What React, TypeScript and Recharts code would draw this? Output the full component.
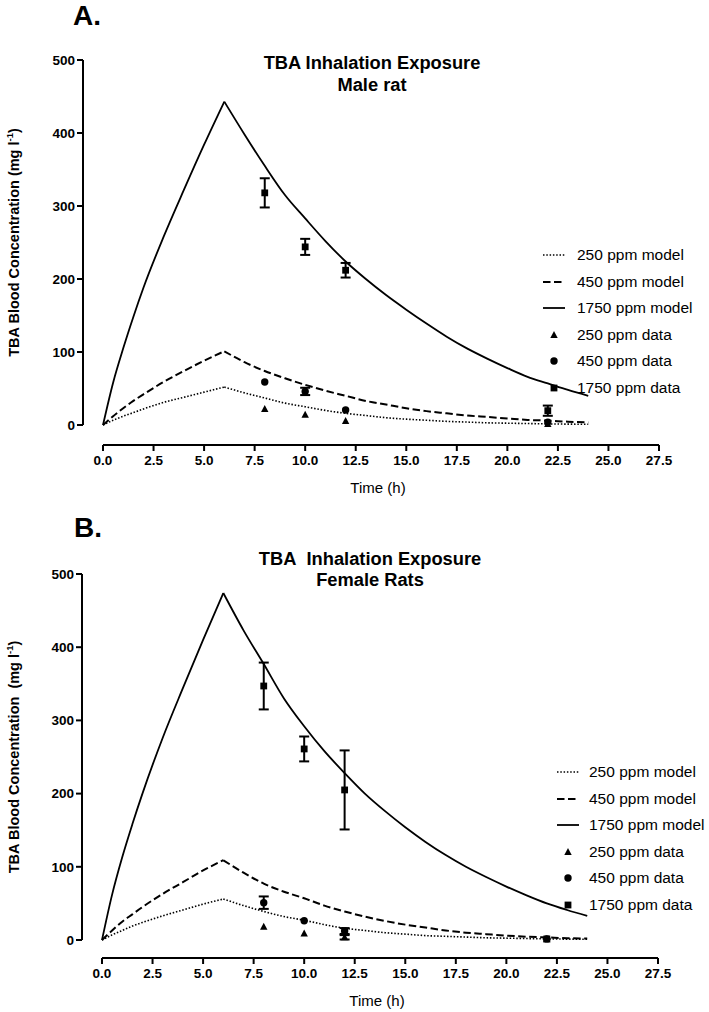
import React from "react";
import {
  ComposedChart,
  Line,
  Scatter,
  XAxis,
  YAxis,
  ErrorBar,
  ReferenceLine,
  Legend,
  Label,
} from "recharts";

const FONT = '"Liberation Sans", Arial, Helvetica, sans-serif';

// PBPK model output (exposure stops at 6 h); half-hour steps where the uptake curve bends most
const modelTimes = [0, 0.5, 1, 1.5, 2, 3, 4, 5, 6, 7, 8, 9, 10, 11, 12, 13, 14, 15, 16, 17, 18, 19, 20, 21, 22, 23, 24];
const PEAK_INDEX = 8;

const male250Model = [0, 6.5, 12, 17, 22, 31, 38, 45, 52, 44, 37, 30, 25, 20, 16, 13, 10, 8, 6.5, 5, 4, 3, 2.5, 2, 1.5, 1.2, 1];
const male450Model = [0, 12, 23, 33, 42, 59, 74, 88, 101, 86, 74, 64, 55, 47, 40, 33, 28, 23, 19, 16, 13, 11, 9, 7, 6, 4.5, 3.5];
const male1750Model = [0, 58, 105, 148, 188, 258, 322, 384, 443, 398, 355, 315, 283, 252, 224, 200, 178, 158, 139, 121, 105, 91, 78, 66, 57, 48, 40];

const female250Model = [0, 7, 13, 19, 24, 33, 41, 49, 56, 47, 39, 32, 27, 21, 16, 13, 10, 8, 6, 5, 4, 3, 2.5, 2, 1.5, 1.2, 1];
const female450Model = [0, 13, 25, 35, 45, 63, 79, 95, 109, 92, 77, 66, 57, 47, 39, 32, 26, 21, 17, 13, 10, 8, 6, 4.5, 3.5, 2.5, 2];
const female1750Model = [0, 62, 113, 158, 200, 276, 344, 410, 474, 423, 377, 330, 292, 258, 228, 200, 176, 154, 134, 116, 100, 86, 73, 61, 50, 41, 33];

// measured blood levels, mean and SD
const sampleTimes = [8, 10, 12, 22];

const male250Data = [22, 14, 5.5, 1.5];
const male250Sd = [0, 0, 0, 0];
const male450Data = [59, 46, 20.5, 4];
const male450Sd = [0, 5, 0, 0];
const male1750Data = [318, 244, 212, 19.6];
const male1750Sd = [20, 11, 10, 7];

const female250Data = [18, 9, 3.7, 1];
const female250Sd = [0, 0, 3, 0];
const female450Data = [51, 26.4, 12.3, 1.5];
const female450Sd = [8.5, 0, 4, 0];
const female1750Data = [347, 261, 205, 1.5];
const female1750Sd = [32, 17, 54, 0];

const xTicks = [0, 2.5, 5, 7.5, 10, 12.5, 15, 17.5, 20, 22.5, 25, 27.5];
const yTicks = [0, 100, 200, 300, 400, 500];

const legendNames = ["250 ppm model", "450 ppm model", "1750 ppm model", "250 ppm data", "450 ppm data", "1750 ppm data"];

const lineStyles = [
  { dash: "1.5 1.8", width: 1.6 },
  { dash: "7.5 3.5", width: 2 },
  { dash: undefined, width: 1.8 },
];

const Triangle = (p: any) => (
  <path d={`M${p.cx},${p.cy - 4} L${p.cx + 3.7},${p.cy + 3} L${p.cx - 3.7},${p.cy + 3} Z`} fill="#000" />
);
const Dot = (p: any) => <circle cx={p.cx} cy={p.cy} r={3.7} fill="#000" />;
const Square = (p: any) => <rect x={p.cx - 3.4} y={p.cy - 3.4} width={6.8} height={6.8} fill="#000" />;
const markerShapes = [Triangle, Dot, Square];

function LegendIcon({ index }: { index: number }) {
  if (index < 3) {
    const s = lineStyles[index];
    return (
      <svg width={22} height={14}>
        <line x1={0} y1={7} x2={22} y2={7} stroke="#000" strokeWidth={s.width} strokeDasharray={s.dash} />
      </svg>
    );
  }
  const Shape = markerShapes[index - 3];
  return (
    <svg width={22} height={14}>
      <Shape cx={11} cy={7} />
    </svg>
  );
}

type Layout = {
  plotLeft: number;
  plotRight: number;
  plotTop: number;
  plotBottom: number;
  yGap: number;
  xGap: number;
  legendLeft: number;
  legendTop: number;
  legendGap: number;
  letterX: number;
  letterY: number;
  titleY1: number;
  titleY2: number;
  titleX: number;
};

type PanelProps = {
  letter: string;
  title1: string;
  title2: string;
  yLabel: string;
  models: number[][];
  points: number[][];
  sds: number[][];
  layout: Layout;
};

const W = 709;
const H = 506;

function Panel({ letter, title1, title2, yLabel, models, points, sds, layout: L }: PanelProps) {
  const modelRows = models.map((m) => modelTimes.map((t, k) => ({ t, v: m[k] })));
  const pointRows = points.map((p, i) => sampleTimes.map((t, k) => ({ t, v: p[k], sd: sds[i][k] })));

  // GraphPad-style offset axes: x line sits below y=0, y line sits left of t=0
  const xAxisLine = (p: any) => (
    <line x1={p.x1 + L.xGap} y1={p.y1 + L.yGap} x2={p.x2} y2={p.y2 + L.yGap} stroke="#000" strokeWidth={2} />
  );
  const yAxisLine = (p: any) => (
    <line
      x1={p.x1 - L.xGap}
      y1={Math.min(p.y1, p.y2)}
      x2={p.x2 - L.xGap}
      y2={Math.max(p.y1, p.y2) - L.yGap}
      stroke="#000"
      strokeWidth={2}
    />
  );

  const renderYLabel = (props: any) => {
    const vb = props.viewBox;
    const cx = vb.x + 14;
    const cy = vb.y + (vb.height - L.yGap) / 2;
    return (
      <text
        x={cx}
        y={cy}
        transform={`rotate(-90 ${cx} ${cy})`}
        textAnchor="middle"
        dominantBaseline="central"
        fontFamily={FONT}
        fontWeight="bold"
        fontSize={14.5}
        fill="#000"
      >
        <tspan>{yLabel}</tspan>
        <tspan dy={-5} fontSize={9.5}>-1</tspan>
        <tspan dy={5}>)</tspan>
      </text>
    );
  };

  const renderXLabel = (props: any) => {
    const vb = props.viewBox;
    const cx = vb.x + L.xGap + (vb.width - L.xGap) / 2 - 3;
    return (
      <text x={cx} y={vb.y + 47.5} textAnchor="middle" fontFamily={FONT} fontSize={15} fill="#000">
        Time (h)
      </text>
    );
  };

  const renderLegend = () => (
    <div style={{ fontFamily: FONT, fontSize: 15.5, color: "#000" }}>
      {legendNames.map((name, i) => (
        <div key={name} style={{ display: "flex", alignItems: "center", height: 26.5 }}>
          <LegendIcon index={i} />
          <span style={{ marginLeft: L.legendGap, whiteSpace: "nowrap" }}>{name}</span>
        </div>
      ))}
    </div>
  );

  const tickStyle = { fill: "#000", fontSize: 13.5, fontWeight: "bold", fontFamily: FONT };

  return (
    <div style={{ position: "relative", width: W, height: H }}>
      <ComposedChart
        width={W}
        height={H}
        margin={{ top: L.plotTop, right: W - L.plotRight, bottom: 0, left: 0 }}
      >
        <XAxis
          dataKey="t"
          type="number"
          domain={[0, 27.5]}
          ticks={xTicks}
          interval={0}
          padding={{ left: L.xGap, right: 0 }}
          height={H - L.plotBottom}
          axisLine={false}
          tickLine={{ stroke: "#000", strokeWidth: 2 }}
          tickSize={6}
          tickMargin={4}
          tick={tickStyle}
          tickFormatter={(v: number) => v.toFixed(1)}
        >
          <Label content={renderXLabel} />
        </XAxis>
        <YAxis
          type="number"
          domain={[0, 500]}
          ticks={yTicks}
          interval={0}
          padding={{ top: 0, bottom: L.yGap }}
          width={L.plotLeft}
          axisLine={false}
          tickLine={{ stroke: "#000", strokeWidth: 2 }}
          tickSize={6}
          tickMargin={2}
          tick={tickStyle}
        >
          <Label content={renderYLabel} />
        </YAxis>
        <ReferenceLine y={0} ifOverflow="visible" shape={xAxisLine} />
        <ReferenceLine x={0} ifOverflow="visible" shape={yAxisLine} />

        {modelRows.map((rows, i) => [
          <Line
            key={`rise-${i}`}
            data={rows.slice(0, PEAK_INDEX + 1)}
            dataKey="v"
            type="monotone"
            stroke="#000"
            strokeWidth={lineStyles[i].width}
            strokeDasharray={lineStyles[i].dash}
            dot={false}
            activeDot={false}
            isAnimationActive={false}
          />,
          <Line
            key={`fall-${i}`}
            data={rows.slice(PEAK_INDEX)}
            dataKey="v"
            type="monotone"
            stroke="#000"
            strokeWidth={lineStyles[i].width}
            strokeDasharray={lineStyles[i].dash}
            dot={false}
            activeDot={false}
            isAnimationActive={false}
          />,
        ])}

        {pointRows.map((rows, i) => (
          <Scatter key={`pts-${i}`} data={rows} dataKey="v" shape={markerShapes[i]} isAnimationActive={false}>
            <ErrorBar dataKey="sd" direction="y" width={5} stroke="#000" strokeWidth={2} />
          </Scatter>
        ))}

        <Legend
          layout="vertical"
          align="center"
          verticalAlign="middle"
          wrapperStyle={{ left: L.legendLeft, top: L.legendTop, width: 170 }}
          content={renderLegend}
        />
      </ComposedChart>

      <svg
        width={W}
        height={H}
        style={{ position: "absolute", left: 0, top: 0, pointerEvents: "none" }}
      >
        <text x={L.letterX} y={L.letterY} fontFamily={FONT} fontWeight="bold" fontSize={28} fill="#000">
          {letter}
        </text>
        <text x={L.titleX} y={L.titleY1} textAnchor="middle" fontFamily={FONT} fontWeight="bold" fontSize={18.3} fill="#000">
          {title1}
        </text>
        <text x={L.titleX} y={L.titleY2} textAnchor="middle" fontFamily={FONT} fontWeight="bold" fontSize={18.3} fill="#000">
          {title2}
        </text>
      </svg>
    </div>
  );
}

const topLayout: Layout = {
  plotLeft: 83,
  plotRight: 659,
  plotTop: 60,
  plotBottom: 445,
  yGap: 20,
  xGap: 20,
  legendLeft: 543,
  legendTop: 242,
  legendGap: 12,
  letterX: 73,
  letterY: 25,
  titleY1: 69,
  titleY2: 90.5,
  titleX: 372,
};

const bottomLayout: Layout = {
  plotLeft: 82,
  plotRight: 658,
  plotTop: 68,
  plotBottom: 452,
  yGap: 18,
  xGap: 20,
  legendLeft: 557,
  legendTop: 253,
  legendGap: 10,
  letterX: 74,
  letterY: 31,
  titleY1: 59,
  titleY2: 80,
  titleX: 370,
};

export default function App() {
  return (
    <div style={{ position: "absolute", left: 0, top: 0, width: W, height: 2 * H, background: "#fff" }}>
      <Panel
        letter="A."
        title1="TBA Inhalation Exposure"
        title2="Male rat"
        yLabel="TBA Blood Concentration (mg l"
        models={[male250Model, male450Model, male1750Model]}
        points={[male250Data, male450Data, male1750Data]}
        sds={[male250Sd, male450Sd, male1750Sd]}
        layout={topLayout}
      />
      <Panel
        letter="B."
        title1={"TBA\u00a0 Inhalation Exposure"}
        title2="Female Rats"
        yLabel={"TBA Blood Concentration\u00a0 (mg l"}
        models={[female250Model, female450Model, female1750Model]}
        points={[female250Data, female450Data, female1750Data]}
        sds={[female250Sd, female450Sd, female1750Sd]}
        layout={bottomLayout}
      />
    </div>
  );
}
